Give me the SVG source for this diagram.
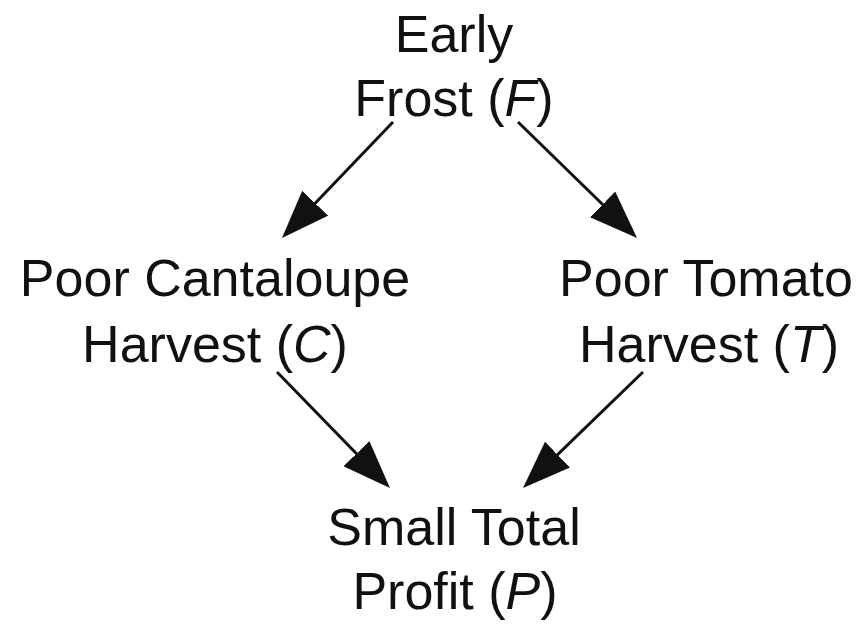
<svg xmlns="http://www.w3.org/2000/svg" width="861" height="624" viewBox="0 0 861 624">
  <style>
    .label { font-family: "Liberation Sans", Arial, sans-serif; font-size: 52px; fill: #111; text-anchor: middle; }
    .var { font-style: italic; }
    .edge { stroke: #111; stroke-width: 3; fill: none; marker-end: url(#arrow); }
  </style>
  <defs>
    <marker id="arrow" viewBox="0 0 48 36" markerWidth="48" markerHeight="36" refX="28" refY="18" markerUnits="userSpaceOnUse" orient="auto">
      <path d="M0,0 L48,18 L0,36 z" fill="#111"/>
    </marker>
  </defs>
  <rect width="861" height="624" fill="#fff"/>

  <g id="connectors">
    <line class="edge" x1="393" y1="122" x2="295.8" y2="223.5"/>
    <line class="edge" x1="518" y1="122" x2="622.7" y2="224"/>
    <line class="edge" x1="277" y1="372" x2="376" y2="473.7"/>
    <line class="edge" x1="643" y1="372" x2="537.4" y2="474.1"/>
  </g>

  <g id="node-F">
    <text class="label" x="454" y="52">Early</text>
    <text class="label" x="454" y="116">Frost (<tspan class="var">F</tspan>)</text>
  </g>

  <g id="node-C">
    <text class="label" x="215" y="296">Poor Cantaloupe</text>
    <text class="label" x="215" y="362">Harvest (<tspan class="var">C</tspan>)</text>
  </g>

  <g id="node-T">
    <text class="label" x="706" y="296">Poor Tomato</text>
    <text class="label" x="709" y="362">Harvest (<tspan class="var">T</tspan>)</text>
  </g>

  <g id="node-P">
    <text class="label" x="454" y="545">Small Total</text>
    <text class="label" x="455" y="609">Profit (<tspan class="var">P</tspan>)</text>
  </g>
</svg>
